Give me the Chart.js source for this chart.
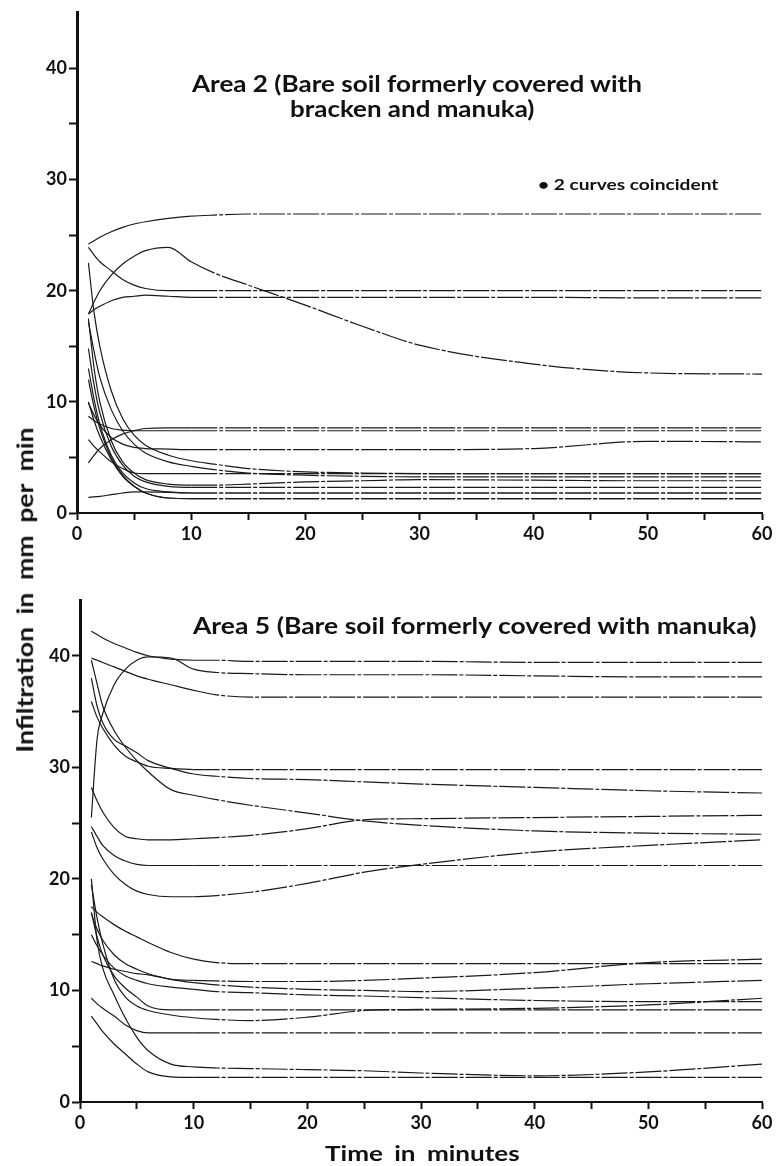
<!DOCTYPE html>
<html>
<head>
<meta charset="utf-8">
<script src="https://cdn.jsdelivr.net/npm/chart.js@4.4.1/dist/chart.umd.min.js"></script>
<style>
body{margin:0;background:#fff;}
#wrap{position:relative;width:780px;height:1166px;overflow:hidden;font-family:Lato,"DejaVu Sans",sans-serif;font-weight:700;color:#111;}
canvas{position:absolute;left:0;}
.txt{position:absolute;white-space:nowrap;line-height:1;transform-origin:0 50%;}
</style>
</head>
<body>
<div id="wrap">
<canvas id="area2" width="780" height="560" style="top:0px"></canvas>
<canvas id="area5" width="780" height="606" style="top:560px"></canvas>
<div class="txt fit" data-w="450" style="left:192px;top:73px;font-size:22px">Area 2 (Bare soil formerly covered with</div>
<div class="txt fit" data-w="244" style="left:290px;top:98px;font-size:22px">bracken and manuka)</div>
<div class="txt fit" data-w="180" style="left:538px;top:177px;font-size:15px">• 2 curves coincident</div>
<div class="txt fit" data-w="564" style="left:193px;top:614px;font-size:23px">Area 5 (Bare soil formerly covered with manuka)</div>
<div class="txt fit" data-w="195" style="left:325px;top:1142px;font-size:21px;word-spacing:4px">Time in minutes</div>
<div class="txt" id="ylab" style="font-size:22px;word-spacing:5px">Infiltration in mm per min</div>
</div>
<script>
// sample times (minutes) shared by every curve
const times = [1, 1.5, 2, 3, 4, 5, 6, 8, 10, 12, 15, 20, 25, 30, 40, 50, 60];
const xTickLabels = [0, 10, 20, 30, 40, 50, 60];
const yTickLabels = [0, 10, 20, 30, 40];

// Area 2 curves, infiltration mm/min at each time
const a2_1  = [24.2, 24.5, 24.8, 25.3, 25.7, 26.0, 26.2, 26.5, 26.7, 26.8, 26.9, 26.9, 26.9, 26.9, 26.9, 26.9, 26.9];
const a2_2  = [17.9, 19.0, 20.0, 21.4, 22.4, 23.1, 23.6, 23.9, 22.6, 21.6, 20.5, 18.7, 16.8, 15.1, 13.4, 12.6, 12.5];
const a2_3  = [23.9, 23.2, 22.6, 21.8, 21.0, 20.5, 20.2, 20.0, 20.0, 20.0, 20.0, 20.0, 20.0, 20.0, 20.0, 20.0, 20.0];
const a2_4  = [17.9, 18.3, 18.6, 19.1, 19.4, 19.5, 19.6, 19.5, 19.4, 19.4, 19.4, 19.4, 19.4, 19.4, 19.4, 19.35, 19.35];
const a2_5  = [4.5, 5.2, 5.8, 6.6, 7.1, 7.4, 7.6, 7.65, 7.65, 7.65, 7.65, 7.65, 7.65, 7.65, 7.65, 7.65, 7.65];
const a2_6  = [8.7, 8.3, 8.0, 7.6, 7.45, 7.4, 7.4, 7.4, 7.4, 7.4, 7.4, 7.4, 7.4, 7.4, 7.4, 7.4, 7.4];
const a2_7  = [9.9, 8.8, 7.9, 6.8, 6.2, 5.9, 5.8, 5.75, 5.7, 5.7, 5.7, 5.7, 5.7, 5.7, 5.8, 6.45, 6.4];
const a2_8  = [22.5, 18.0, 15.0, 11.0, 8.5, 7.0, 6.1, 5.2, 4.7, 4.4, 4.0, 3.7, 3.6, 3.55, 3.55, 3.55, 3.55];
const a2_9  = [17.2, 14.5, 12.2, 9.3, 7.4, 6.2, 5.4, 4.6, 4.2, 3.9, 3.6, 3.4, 3.3, 3.25, 3.25, 3.25, 3.25];
const a2_10 = [17.5, 13.0, 10.0, 6.5, 4.6, 3.6, 3.0, 2.6, 2.5, 2.5, 2.6, 2.8, 2.9, 3.0, 2.95, 2.9, 2.9];
const a2_11 = [14.8, 11.5, 9.0, 6.0, 4.3, 3.3, 2.8, 2.4, 2.3, 2.3, 2.3, 2.3, 2.3, 2.3, 2.3, 2.3, 2.3];
const a2_12 = [13.0, 10.2, 8.0, 5.2, 3.6, 2.7, 2.2, 1.9, 1.8, 1.8, 1.8, 1.8, 1.8, 1.8, 1.8, 1.8, 1.8];
const a2_13 = [12.0, 9.5, 7.6, 5.0, 3.4, 2.4, 1.8, 1.35, 1.3, 1.3, 1.3, 1.3, 1.3, 1.3, 1.3, 1.3, 1.3];
const a2_14 = [10.0, 8.3, 6.9, 4.8, 3.3, 2.4, 1.8, 1.35, 1.3, 1.3, 1.3, 1.3, 1.3, 1.3, 1.3, 1.3, 1.3];
const a2_15 = [1.4, 1.45, 1.5, 1.65, 1.8, 1.9, 1.9, 1.85, 1.8, 1.8, 1.8, 1.8, 1.8, 1.8, 1.8, 1.8, 1.8];
const a2_16 = [6.6, 6.0, 5.5, 4.6, 4.0, 3.6, 3.55, 3.55, 3.55, 3.55, 3.55, 3.55, 3.55, 3.55, 3.55, 3.55, 3.55];
const area2 = [a2_1, a2_2, a2_3, a2_4, a2_5, a2_6, a2_7, a2_8, a2_9, a2_10, a2_11, a2_12, a2_13, a2_14, a2_15, a2_16];
// "2 curves coincident" markers
const coincidentAt = [3.2, 1.3];

// Area 5 curves
const a5_1  = [42.2, 41.9, 41.6, 41.1, 40.7, 40.3, 40.0, 39.7, 39.6, 39.6, 39.5, 39.5, 39.5, 39.5, 39.4, 39.4, 39.4];
const a5_2  = [25.5, 32.5, 34.8, 37.4, 38.8, 39.6, 39.9, 39.8, 38.8, 38.5, 38.4, 38.3, 38.3, 38.3, 38.2, 38.1, 38.1];
const a5_3  = [39.8, 39.6, 39.4, 39.0, 38.6, 38.2, 37.9, 37.4, 36.9, 36.5, 36.3, 36.3, 36.3, 36.3, 36.3, 36.3, 36.3];
const a5_4  = [38.0, 35.5, 34.0, 32.5, 31.9, 31.3, 30.6, 29.9, 29.4, 29.2, 29.0, 28.9, 28.7, 28.5, 28.2, 27.9, 27.7];
const a5_5  = [39.6, 37.5, 35.5, 33.3, 31.8, 30.6, 29.6, 28.0, 27.5, 27.1, 26.6, 25.9, 25.2, 24.8, 24.3, 24.1, 24.0];
const a5_6  = [35.9, 34.5, 33.5, 32.0, 31.0, 30.5, 30.1, 29.9, 29.8, 29.8, 29.8, 29.8, 29.8, 29.8, 29.8, 29.8, 29.8];
const a5_7  = [28.2, 27.0, 26.0, 24.6, 23.8, 23.6, 23.5, 23.5, 23.6, 23.7, 23.9, 24.5, 25.3, 25.4, 25.5, 25.6, 25.7];
const a5_8  = [24.7, 23.8, 23.0, 22.1, 21.6, 21.3, 21.2, 21.2, 21.2, 21.2, 21.2, 21.2, 21.2, 21.2, 21.2, 21.2, 21.2];
const a5_9  = [24.2, 22.8, 21.8, 20.4, 19.5, 18.9, 18.6, 18.4, 18.4, 18.5, 18.8, 19.6, 20.6, 21.3, 22.4, 23.0, 23.5];
const a5_10 = [17.5, 17.0, 16.6, 15.9, 15.3, 14.8, 14.3, 13.4, 12.8, 12.5, 12.4, 12.4, 12.4, 12.4, 12.4, 12.4, 12.4];
const a5_11 = [12.6, 12.4, 12.2, 11.9, 11.7, 11.5, 11.4, 11.0, 10.9, 10.85, 10.8, 10.8, 10.9, 11.1, 11.6, 12.5, 12.8];
const a5_12 = [16.9, 15.5, 14.5, 13.2, 12.4, 11.9, 11.5, 11.0, 10.7, 10.5, 10.3, 10.1, 10.0, 9.9, 10.2, 10.6, 10.9];
const a5_13 = [15.0, 14.0, 13.2, 12.0, 11.3, 10.9, 10.6, 10.3, 10.1, 9.9, 9.8, 9.6, 9.5, 9.35, 9.1, 9.0, 9.0];
const a5_14 = [19.5, 16.5, 14.2, 11.0, 9.4, 8.6, 8.2, 7.8, 7.55, 7.4, 7.3, 7.6, 8.2, 8.3, 8.4, 8.7, 9.3];
const a5_15 = [17.0, 14.8, 13.2, 11.3, 10.2, 9.4, 8.6, 8.25, 8.25, 8.25, 8.25, 8.25, 8.25, 8.25, 8.25, 8.25, 8.25];
const a5_16 = [9.3, 8.8, 8.4, 7.7, 6.9, 6.4, 6.2, 6.2, 6.2, 6.2, 6.2, 6.2, 6.2, 6.2, 6.2, 6.2, 6.2];
const a5_17 = [20.0, 14.5, 12.0, 9.6, 7.5, 5.8, 4.6, 3.4, 3.15, 3.05, 3.0, 2.9, 2.8, 2.6, 2.35, 2.7, 3.4];
const a5_18 = [7.7, 7.0, 6.3, 5.2, 4.3, 3.4, 2.7, 2.25, 2.2, 2.2, 2.2, 2.2, 2.2, 2.2, 2.2, 2.2, 2.2];
const area5 = [a5_1, a5_2, a5_3, a5_4, a5_5, a5_6, a5_7, a5_8, a5_9, a5_10, a5_11, a5_12, a5_13, a5_14, a5_15, a5_16, a5_17, a5_18];

Chart.defaults.font.family = 'Lato, "DejaVu Sans", sans-serif';
Chart.defaults.color = '#111';

function makePanel(id, curves, dots, geo) {
    var datasets = curves.map(function (c) {
        return {
            data: times.map(function (t, i) { return { x: t, y: c[i] }; }),
            borderColor: '#1a1a1a',
            borderWidth: 1.2,
            pointRadius: 0,
            fill: false,
            cubicInterpolationMode: 'monotone',
            // the flat tails of the original curves are drawn broken, dash-dot like
            segment: {
                borderDash: function (ctx) { return ctx.p0.parsed.x >= 10 ? [26, 2, 4, 2] : undefined; }
            }
        };
    });
    if (dots) {
        datasets.push({
            data: dots.map(function (v) { return { x: 60.5, y: v }; }),
            showLine: false,
            pointRadius: 3,
            pointBackgroundColor: '#111',
            pointBorderColor: '#111',
            clip: false
        });
    }
    var tickCol = function (ctx) {
        return ctx.tick && ctx.tick.value === 45 ? 'rgba(0,0,0,0)' : '#111';
    };
    return new Chart(document.getElementById(id), {
        type: 'line',
        data: { datasets: datasets },
        options: {
            responsive: false,
            animation: false,
            devicePixelRatio: 1,
            layout: { padding: { left: 0, right: geo.right, top: geo.top, bottom: 0 } },
            plugins: { legend: { display: false }, tooltip: { enabled: false } },
            scales: {
                x: {
                    type: 'linear', min: 0, max: 60,
                    ticks: {
                        stepSize: 5, autoSkip: false, maxRotation: 0, padding: 3,
                        font: { size: 18, weight: 'bold' },
                        callback: function (v) { return xTickLabels.includes(v) ? String(v) : ''; }
                    },
                    grid: { drawOnChartArea: false, tickLength: 7, tickWidth: 2, tickColor: '#111' },
                    border: { color: '#111', width: 2 },
                    afterFit: function (s) { s.height = geo.xh; }
                },
                y: {
                    min: 0, max: 45,
                    ticks: {
                        stepSize: 5, autoSkip: false, padding: 2,
                        font: { size: 18, weight: 'bold' },
                        callback: function (v) { return yTickLabels.includes(v) ? String(v) : ''; }
                    },
                    grid: { drawOnChartArea: false, tickLength: 8, tickWidth: 2, tickColor: tickCol },
                    border: { color: '#111', width: 3 },
                    afterFit: function (s) { s.width = geo.yw; }
                }
            }
        }
    });
}

makePanel('area2', area2, coincidentAt, { right: 18, top: 10, xh: 47, yw: 77 });
makePanel('area5', area5, null, { right: 18, top: 40, xh: 64, yw: 80 });

// squeeze the text blocks to the widths of the original lettering
document.querySelectorAll('.fit').forEach(function (el) {
    var s = parseFloat(el.dataset.w) / el.offsetWidth;
    el.style.transform = 'scaleX(' + s + ')';
});
var yl = document.getElementById('ylab');
var w = yl.offsetWidth, h = yl.offsetHeight;
yl.style.left = (25 - w / 2) + 'px';
yl.style.top = (590 - h / 2) + 'px';
yl.style.transformOrigin = '50% 50%';
yl.style.transform = 'rotate(-90deg) scaleX(' + (325 / w) + ')';
</script>
</body>
</html>
